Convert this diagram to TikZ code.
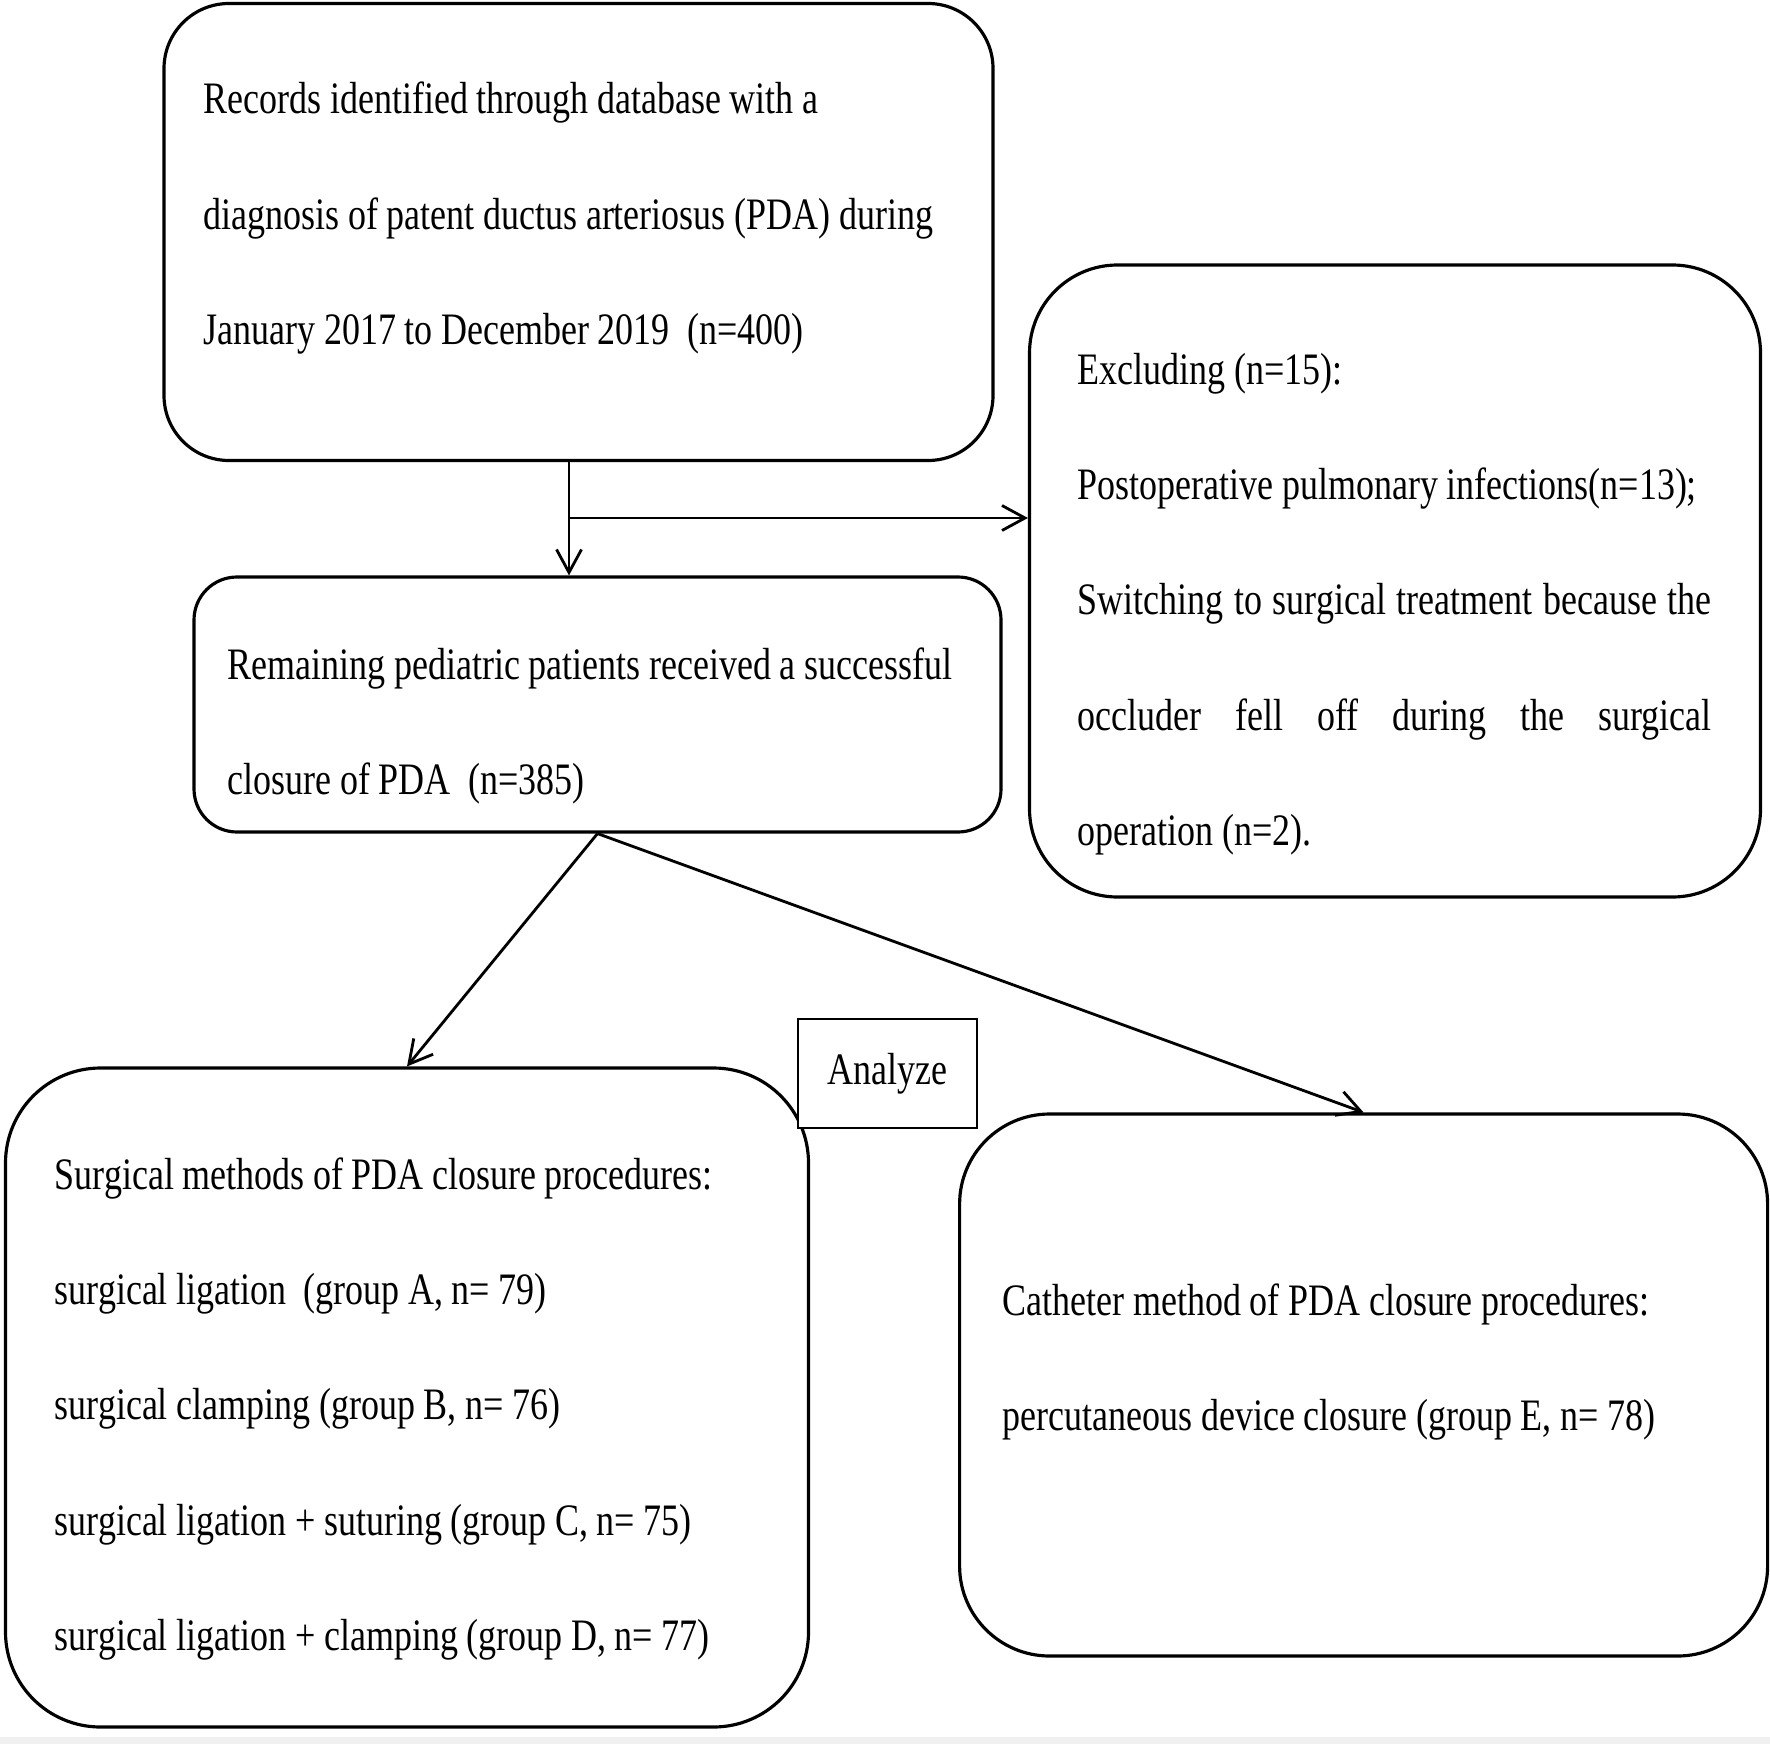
\documentclass[tikz,border=0pt]{standalone}
\usepackage{fontspec}
\setmainfont{Liberation Serif}[FakeStretch=0.8]
\usepackage{tikz}
\usetikzlibrary{arrows.meta, positioning}

\newcommand{\flowfont}{\fontsize{12.8pt}{32.85pt}\selectfont\fontdimen2\font=2.45pt}

\begin{document}
\begin{tikzpicture}[box/.style={draw=black, line width=0.9pt, inner sep=0pt},
        txt/.style={anchor=base west, inner sep=0pt, text width=#1, align=flush left, font=\flowfont},
        txt/.default=7.5cm,
        >={Straight Barb[length=2.3mm, width=2.5mm]}]
        \useasboundingbox[fill=white] (0,0) rectangle (17.70,-17.44);
        \fill[black!6] (0,-17.37) rectangle (17.70,-17.44);
        % boxes
        \node[box, rounded corners=0.65cm, minimum width=8.29cm, minimum height=4.57cm] (rec) at (5.785,-2.32) {};
        \node[box, rounded corners=0.88cm, minimum width=7.31cm, minimum height=6.32cm] (excl) at (13.95,-5.81) {};
        \node[box, rounded corners=0.43cm, minimum width=8.07cm, minimum height=2.55cm] (remain) at (5.975,-7.045) {};
        \node[box, rounded corners=0.95cm, minimum width=8.03cm, minimum height=6.59cm] (surg) at (4.07,-13.975) {};
        \node[box, rounded corners=0.9cm, minimum width=8.08cm, minimum height=5.42cm] (cath) at (13.636,-13.85) {};
        \node[draw=black, line width=0.6pt, fill=white, minimum width=1.79cm, minimum height=1.09cm,
            inner sep=0pt, font=\flowfont] (analyze) at (8.8775,-10.734) {Analyze};
        % texts
        \node[txt=8.5cm] (rectext) at (2.03,-1.14) {Records identified through database with a\\
            diagnosis of patent ductus arteriosus (PDA) during\\
            January 2017 to December 2019\ \ (n=400)};
        \node[txt=6.34cm] (excltext) at (10.77,-3.84) {Excluding (n=15):\\
            Postoperative pulmonary infections(n=13);\\
            \makebox[\linewidth][l]{Switching\hfill to\hfill surgical\hfill treatment\hfill because\hfill the}\\
            \makebox[\linewidth][l]{occluder\hfill fell\hfill off\hfill during\hfill the\hfill surgical}\\
            operation (n=2).};
        \node[txt=8.5cm] (remaintext) at (2.27,-6.79) {Remaining pediatric patients received a successful\\
            closure of PDA\ \ (n=385)};
        \node[txt=8.5cm] (surgtext) at (0.54,-11.89) {Surgical methods of PDA closure procedures:\\
            surgical ligation\ \ (group A, n= 79)\\
            surgical clamping (group B, n= 76)\\
            surgical ligation + suturing (group C, n= 75)\\
            surgical ligation + clamping (group D, n= 77)};
        \node[txt] (cathtext) at (10.02,-13.15) {Catheter method of PDA closure procedures:\\
            percutaneous device closure (group E, n= 78)};
        % arrows
        \coordinate (split) at (5.69,-5.18);
        \begin{scope}[line width=0.8pt]
            \draw[->] (rec.south -| split) -- (remain.north -| split);
            \draw[->] (split) -- (excl.west |- split);
            \draw[->] (remain.south) -- (surg.north);
            \draw[->] (remain.south) -- (cath.north);
        \end{scope}
    \end{tikzpicture}
\end{document}
